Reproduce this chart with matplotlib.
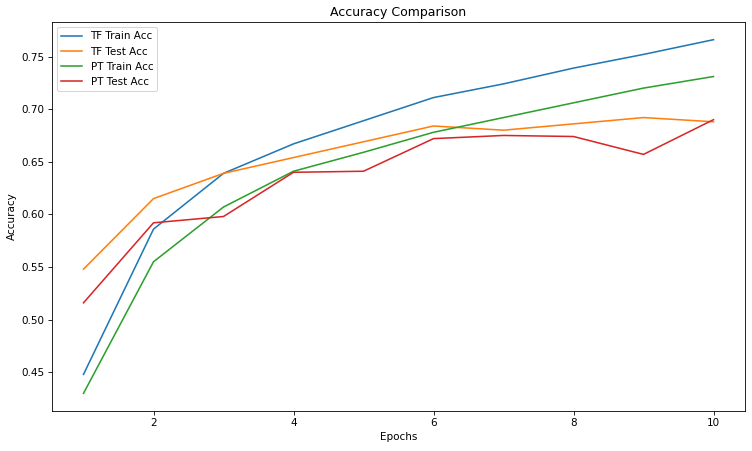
import matplotlib
matplotlib.use("Agg")
import matplotlib.pyplot as plt

epochs = [1, 2, 3, 4, 5, 6, 7, 8, 9, 10]
tf_train = [0.448, 0.586, 0.639, 0.667, 0.689, 0.711, 0.724, 0.739, 0.752, 0.766]
tf_test = [0.548, 0.615, 0.639, 0.654, 0.669, 0.684, 0.680, 0.686, 0.692, 0.688]
pt_train = [0.430, 0.555, 0.607, 0.641, 0.659, 0.678, 0.692, 0.706, 0.720, 0.731]
pt_test = [0.516, 0.592, 0.598, 0.640, 0.641, 0.672, 0.675, 0.674, 0.657, 0.690]

fig = plt.figure(figsize=(753 / 75, 451 / 75), dpi=75)
ax = fig.add_axes([52 / 753, 1 - 411 / 451, (745 - 52) / 753, (411 - 22) / 451])
ax.plot(epochs, tf_train, label="TF Train Acc")
ax.plot(epochs, tf_test, label="TF Test Acc")
ax.plot(epochs, pt_train, label="PT Train Acc")
ax.plot(epochs, pt_test, label="PT Test Acc")
ax.set_title("Accuracy Comparison")
ax.set_xlabel("Epochs")
ax.set_ylabel("Accuracy")
ax.legend(loc="upper left")
fig.savefig("out.png", dpi=75)
